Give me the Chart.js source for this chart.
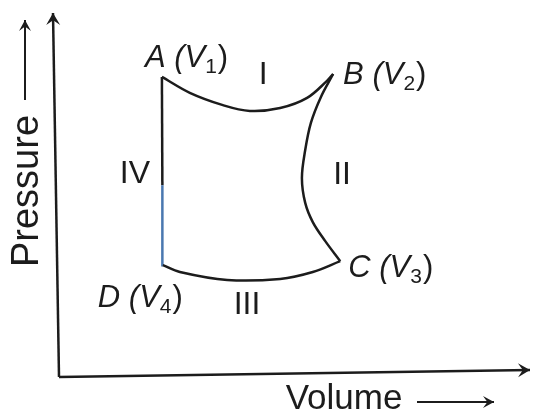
<!DOCTYPE html>
<html><head><meta charset="utf-8">
<script src="https://cdn.jsdelivr.net/npm/chart.js@4"></script>
<style>html,body{margin:0;padding:0;background:#fff;}#wrap{width:533px;height:417px;}</style>
</head><body><div id="wrap"><canvas id="c" width="533" height="417"></canvas></div>
<script>
// Process I: A -> B (volume, pressure in arbitrary units)
const curveIx = [22.6, 28.5, 35.5, 41.2, 47.6, 53.3, 57.5, 58.8];
const curveIy = [82.9, 78.5, 75.1, 73.5, 74.3, 77.1, 81.8, 83.7];
// Process II: B -> C
const curveIIx = [58.8, 56.2, 54.1, 52.9, 52.2, 52.9, 54.5, 57.1, 60.3];
const curveIIy = [83.7, 77.3, 70.2, 62.7, 55.0, 48.1, 42.8, 37.6, 32.0];
// Process III: C -> D
const curveIIIx = [60.3, 54.5, 47.6, 36.4, 26.4, 22.8];
const curveIIIy = [32.0, 29.0, 27.1, 26.8, 29.0, 30.9];
// Process IV: D -> A (isochoric)
const curveIVx = [22.8, 22.7, 22.6];
const curveIVy = [30.9, 53.0, 82.9];
// Vertex labels
const vertexNames = ['A', 'B', 'C', 'D'];
const vertexSubs = ['1', '2', '3', '4'];
// Process numeral labels and positions
const processNames = ['I', 'II', 'III', 'IV'];
const processX = [44.0, 60.7, 40.6, 16.9];
const processY = [83.4, 55.8, 19.9, 56.1];

const pts = (xs, ys) => xs.map((x, i) => ({x, y: ys[i]}));
const ink = '#1c1c1c';
const blue = '#4a78b0';

const vertices = [
  {x: curveIx[0], y: curveIy[0]},
  {x: curveIIx[0], y: curveIIy[0]},
  {x: curveIIIx[0], y: curveIIIy[0]},
  {x: curveIVx[0], y: curveIVy[0]}
];
const labelOffsets = [[-17, -10], [10, 10], [8, 16], [-65, 42]];

function arrow(ctx, x1, y1, x2, y2, head, w) {
  ctx.beginPath(); ctx.moveTo(x1, y1); ctx.lineTo(x2, y2); ctx.stroke();
  const a = Math.atan2(y2 - y1, x2 - x1);
  ctx.beginPath();
  ctx.moveTo(x2, y2);
  ctx.lineTo(x2 - head * Math.cos(a) + w * Math.sin(a), y2 - head * Math.sin(a) - w * Math.cos(a));
  ctx.lineTo(x2 - head * 0.6 * Math.cos(a), y2 - head * 0.6 * Math.sin(a));
  ctx.lineTo(x2 - head * Math.cos(a) - w * Math.sin(a), y2 - head * Math.sin(a) + w * Math.cos(a));
  ctx.closePath(); ctx.fill();
}

const decor = {
  id: 'decor',
  afterDatasetsDraw(chart) {
    const ctx = chart.ctx, ca = chart.chartArea;
    const xs = chart.scales.x, ys = chart.scales.y;
    ctx.save();
    ctx.strokeStyle = ink; ctx.fillStyle = ink; ctx.lineWidth = 2.5; ctx.lineCap = 'butt';
    // axes
    arrow(ctx, ca.left + 4, ca.bottom, ca.left - 2, ca.top - 2, 12, 7);
    arrow(ctx, ca.left + 4, ca.bottom, ca.right + 2, ca.bottom - 7, 12, 7);
    // axis titles
    ctx.lineWidth = 2;
    arrow(ctx, 25, 100, 25, 20, 11, 6);
    arrow(ctx, 417, 402, 494, 402, 11, 6);
    ctx.textBaseline = 'middle'; ctx.textAlign = 'center';
    ctx.font = '38px "Liberation Sans", Arial, sans-serif';
    ctx.save(); ctx.translate(28, 191); ctx.rotate(-Math.PI / 2); ctx.fillText('Pressure', 0, 0); ctx.restore();
    ctx.font = '35px "Liberation Sans", Arial, sans-serif';
    ctx.fillText('Volume', 344, 399);
    // vertex labels
    ctx.textAlign = 'left'; ctx.textBaseline = 'alphabetic';
    vertices.forEach((v, i) => {
      let px = xs.getPixelForValue(v.x) + labelOffsets[i][0];
      const py = ys.getPixelForValue(v.y) + labelOffsets[i][1];
      ctx.font = 'italic 31px "Liberation Sans", Arial, sans-serif';
      const s1 = vertexNames[i] + ' (';
      ctx.fillText(s1, px, py); px += ctx.measureText(s1).width;
      ctx.fillText('V', px, py); px += ctx.measureText('V').width;
      ctx.font = '21px "Liberation Sans", Arial, sans-serif';
      ctx.fillText(vertexSubs[i], px, py + 6); px += ctx.measureText(vertexSubs[i]).width + 1;
      ctx.font = '31px "Liberation Sans", Arial, sans-serif';
      ctx.fillText(')', px, py);
    });
    // process labels
    ctx.textAlign = 'center'; ctx.textBaseline = 'middle';
    ctx.font = '32px "Liberation Sans", Arial, sans-serif';
    processNames.forEach((n, i) => {
      ctx.fillText(n, xs.getPixelForValue(processX[i]), ys.getPixelForValue(processY[i]));
    });
    ctx.restore();
  }
};

const common = {showLine: true, pointRadius: 0, borderWidth: 2.5, borderColor: ink, tension: 0.35, fill: false};
new Chart(document.getElementById('c'), {
  type: 'scatter',
  data: {
    datasets: [
      Object.assign({label: 'I', data: pts(curveIx, curveIy)}, common),
      Object.assign({label: 'II', data: pts(curveIIx, curveIIy)}, common),
      Object.assign({label: 'III', data: pts(curveIIIx, curveIIIy)}, common),
      Object.assign({}, common, {label: 'IV a', data: pts(curveIVx.slice(0, 2), curveIVy.slice(0, 2)), borderColor: blue, tension: 0}),
      Object.assign({}, common, {label: 'IV b', data: pts(curveIVx.slice(1), curveIVy.slice(1)), tension: 0})
    ]
  },
  options: {
    responsive: false, animation: false,
    layout: {padding: {left: 55, top: 15, right: 5, bottom: 40}},
    plugins: {legend: {display: false}, tooltip: {enabled: false}},
    scales: {
      x: {type: 'linear', min: 0, max: 100, display: false},
      y: {type: 'linear', min: 0, max: 100, display: false}
    }
  },
  plugins: [decor]
});
</script></body></html>
